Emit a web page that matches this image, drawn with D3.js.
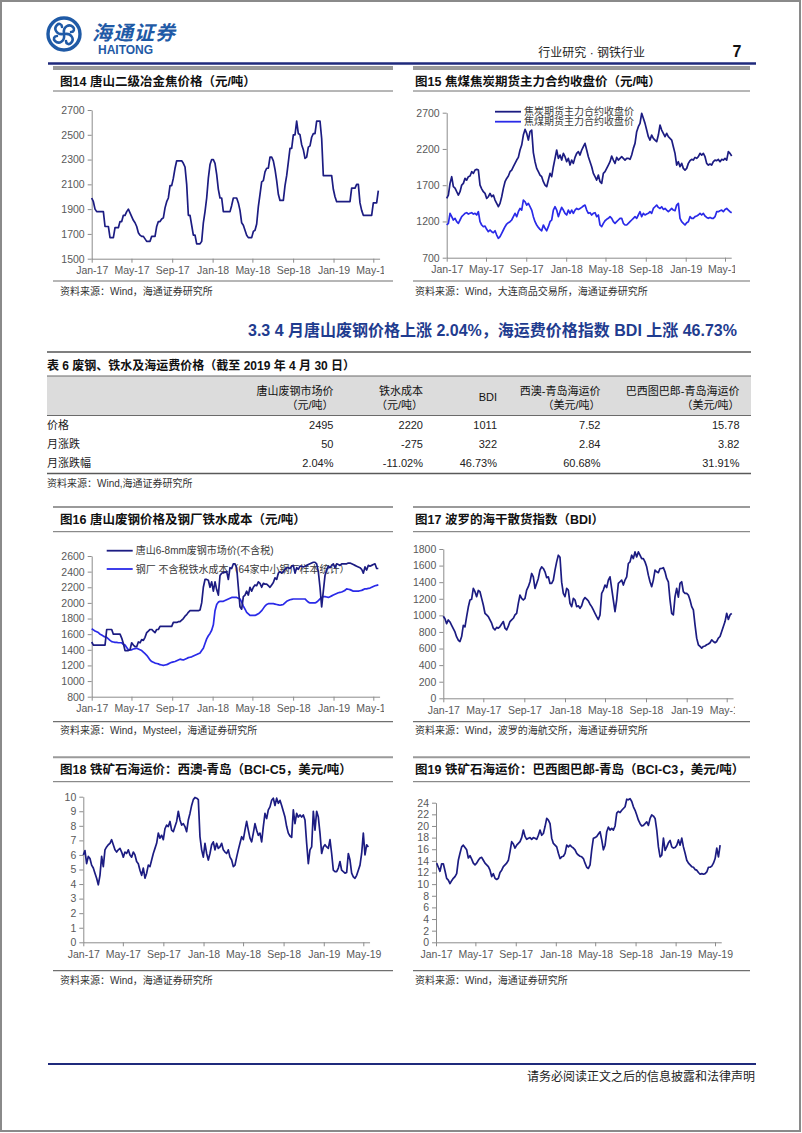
<!DOCTYPE html>
<html>
<head>
<meta charset="utf-8">
<script src="https://cdn.jsdelivr.net/npm/d3@7"></script>
<style>
  body { margin: 0; background: #fff; }
  text { font-family: "Liberation Sans", Arial, "Noto Sans CJK SC", sans-serif; }
</style>
</head>
<body>
<svg id="page" width="802" height="1133"></svg>
<script>
// ---- data (one sample about every 5 days from Jan 2017) ----

// fig14 唐山二级冶金焦价格
var coke14 = [1990,1960,1900,1880,1880,1880,1880,1880,1760,1760,
  1760,1670,1670,1670,1750,1750,1750,1800,1800,1850,
  1850,1880,1900,1870,1840,1810,1790,1760,1710,1690,
  1680,1680,1660,1640,1640,1640,1680,1680,1680,1760,
  1800,1800,1820,1830,1910,1960,1990,2090,2090,2150,
  2230,2290,2290,2290,2290,2270,2240,2100,1850,1850,
  1770,1690,1690,1620,1620,1620,1640,1790,1880,1990,
  2150,2260,2300,2300,2270,2180,2060,1990,1990,1880,
  1880,1880,1880,1880,1930,1990,1990,1990,1950,1890,
  1790,1770,1730,1690,1670,1670,1670,1720,1730,1780,
  1920,2020,2120,2130,2200,2230,2230,2320,2320,2290,
  2220,2130,2020,1970,1970,1970,2090,2170,2280,2390,
  2390,2500,2500,2610,2510,2500,2420,2380,2310,2320,
  2400,2410,2480,2510,2510,2610,2610,2610,2470,2170,
  2170,2170,2170,2170,2170,2060,2000,1960,1960,1960,
  1960,1960,1960,1960,1960,1960,2070,2070,2070,2100,
  2100,1950,1890,1850,1850,1850,1850,1850,1850,1950,
  1950,1950,2050];

// fig15 焦炭 / 焦煤 期货主力合约收盘价
var cokeFut = [1518,1564,1725,1817,1680,1660,1610,1564,1610,1702,
  1725,1794,1771,1817,1826,1886,1863,1909,1918,1909,
  1700,1650,1610,1587,1518,1541,1587,1541,1564,1495,
  1449,1403,1449,1541,1656,1748,1794,1826,1886,1909,
  1955,2001,2047,2084,2185,2254,2392,2470,2415,2323,
  2438,2460,2150,2024,1932,1886,1840,1817,1748,1702,
  1679,1771,1863,1817,1955,2070,2185,2070,2116,2047,
  2139,2093,2024,2070,1978,2047,2001,2084,2139,2162,
  2116,2185,2231,2277,2185,2093,2024,1955,1863,1817,
  1771,1840,1748,1725,1863,1886,1932,1978,2024,2102,
  2047,2001,2084,2047,2070,2093,2070,2047,2070,2070,
  2056,2116,2208,2277,2438,2507,2553,2691,2622,2553,
  2461,2369,2323,2392,2346,2323,2300,2392,2530,2461,
  2415,2369,2415,2369,2346,2323,2231,2139,1978,2024,
  1955,2001,1932,1909,1932,2001,2038,2056,2047,2084,
  2070,2093,2139,2116,2139,2093,2001,1978,1992,1978,
  2024,2047,2038,2056,2024,2056,2047,2070,2047,2162,
  2139,2102];
var coalFut = [1151,1174,1312,1266,1220,1243,1197,1174,1220,1266,
  1289,1312,1321,1302,1312,1321,1302,1312,1289,1335,
  1197,1151,1128,1137,1091,1059,1082,1059,1045,1072,
  1013,967,990,1036,1082,1128,1164,1183,1197,1220,
  1266,1312,1266,1335,1380,1357,1495,1472,1426,1449,
  1403,1357,1266,1197,1151,1118,1091,1072,1151,1105,
  1072,1128,1197,1220,1357,1403,1357,1266,1335,1394,
  1357,1312,1289,1357,1312,1357,1312,1357,1380,1366,
  1380,1394,1413,1426,1357,1312,1321,1289,1312,1321,
  1266,1289,1151,1128,1174,1210,1229,1243,1266,1243,
  1197,1174,1197,1220,1243,1243,1174,1151,1151,1174,
  1197,1220,1243,1266,1243,1289,1335,1266,1312,1289,
  1302,1312,1335,1312,1380,1403,1426,1394,1380,1403,
  1366,1380,1357,1335,1357,1380,1357,1348,1426,1449,
  1243,1197,1174,1151,1183,1197,1266,1243,1243,1266,
  1275,1289,1312,1289,1312,1275,1256,1243,1256,1243,
  1243,1266,1335,1335,1348,1357,1335,1366,1380,1357,
  1335,1321];

// fig16 唐山废钢价格 / 钢厂铁水成本
var scrap16 = [1500,1460,1460,1460,1460,1460,1460,1460,1460,1660,
  1660,1660,1660,1600,1600,1600,1600,1600,1550,1480,
  1390,1390,1390,1400,1490,1460,1440,1440,1500,1490,
  1530,1520,1560,1620,1640,1660,1660,1640,1620,1660,
  1660,1700,1700,1700,1700,1700,1700,1700,1700,1750,
  1750,1750,1760,1760,1780,1800,1830,1850,1880,1900,
  1900,1900,1900,1900,1900,1910,2000,2200,2300,2300,
  2290,2200,2270,2150,2270,2170,2100,2350,2380,2390,
  2390,2400,2300,2450,2440,2500,2500,2450,2200,1950,
  1920,2080,2100,2150,2100,2200,2150,2200,2230,2220,
  2270,2250,2200,2250,2240,2240,2220,2200,2230,2260,
  2320,2300,2380,2400,2380,2400,2430,2450,2450,2440,
  2470,2480,2380,2450,2430,2470,2470,2460,2470,2480,
  2490,2500,2510,2520,2520,2500,2400,2200,1950,2150,
  2350,2420,2470,2450,2480,2500,2450,2500,2490,2480,
  2500,2500,2500,2500,2510,2510,2500,2490,2480,2470,
  2460,2450,2430,2380,2460,2420,2480,2470,2480,2490,
  2500,2440,2440];
var ironCost16 = [1670,1655,1640,1630,1620,1600,1590,1575,1565,1560,
  1540,1520,1505,1500,1495,1495,1490,1490,1490,1470,
  1460,1430,1400,1400,1400,1410,1415,1420,1410,1400,
  1390,1370,1350,1330,1300,1270,1250,1240,1230,1225,
  1220,1210,1205,1200,1205,1210,1220,1230,1240,1245,
  1250,1260,1270,1280,1275,1270,1280,1290,1300,1305,
  1310,1320,1330,1340,1350,1360,1390,1420,1480,1540,
  1580,1610,1650,1720,1900,1980,2010,2020,2020,2020,
  2030,2040,2050,2060,2070,2070,2070,2070,2060,2050,
  2010,1960,1920,1880,1860,1840,1840,1840,1840,1850,
  1860,1880,1900,1930,1960,1980,1990,1990,1990,1990,
  1985,1980,1975,1970,1975,1980,2000,2020,2030,2040,
  2045,2050,2050,2050,2050,2050,2050,2050,2050,2030,
  2010,2000,2000,2000,2000,2010,2030,2050,2070,2080,
  2080,2075,2070,2080,2090,2100,2110,2120,2130,2135,
  2140,2150,2160,2180,2175,2170,2160,2150,2150,2150,
  2150,2155,2160,2170,2180,2180,2185,2190,2200,2210,
  2220,2225,2230];

// fig17 BDI
var bdi = [990,960,900,945,920,880,840,800,740,700,
  685,745,880,860,985,1100,1185,1195,1325,1285,
  1225,1300,1285,1205,1125,1025,1005,985,945,905,
  845,825,855,845,865,895,925,845,825,870,
  925,945,965,1005,1025,1145,1245,1205,1185,1205,
  1305,1345,1405,1505,1465,1325,1385,1445,1545,1585,
  1565,1525,1455,1465,1385,1385,1425,1545,1645,1725,
  1700,1400,1265,1225,1325,1305,1145,1105,1205,1185,
  1105,1115,1085,1115,1185,1215,1195,1175,1135,1105,
  1065,1025,985,950,1005,1265,1305,1365,1335,1425,
  1465,1325,1185,1045,1185,1385,1405,1425,1365,1425,
  1465,1625,1645,1725,1685,1765,1705,1765,1725,1685,
  1685,1645,1585,1485,1405,1345,1425,1545,1525,1515,
  1565,1565,1575,1525,1445,1405,1185,1025,1005,1225,
  1325,1220,1385,1405,1285,1265,1265,1245,1185,1105,
  1065,885,725,645,625,605,625,630,645,655,
  670,705,685,670,685,725,745,805,865,925,
  1025,950,1005,1025];

// fig18 BCI-C5 西澳-青岛
var bciC5 = [6.0,6.3,5.4,5.9,5.75,5.3,5.1,4.75,4.4,3.95,
  4.6,5.9,5.2,6.35,6.55,6.7,6.8,7.05,6.7,6.35,
  6.2,6.35,6.45,6.2,5.85,6.2,6.1,6.35,6.0,5.85,
  6.2,6.0,5.55,5.4,4.95,4.6,5.1,4.4,4.75,5.3,
  5.2,5.65,6.1,6.45,6.8,7.5,7.15,7.35,7.05,7.8,
  8.05,7.95,8.3,7.7,7.6,7.95,8.3,9.0,8.4,8.05,
  8.15,7.95,7.6,8.4,8.85,9.4,9.8,9.95,9.9,9.8,
  7.25,6.35,5.85,6.8,6.1,5.65,6.1,6.7,6.9,6.35,
  6.8,6.45,6.55,6.8,6.35,6.2,6.1,6.35,5.85,5.65,
  5.2,5.3,5.85,6.35,6.8,7.25,7.05,7.7,8.3,7.7,
  7.15,6.9,7.5,8.15,7.7,7.35,7.5,6.9,7.95,8.85,
  8.5,9.1,9.3,9.75,9.9,9.4,9.9,9.55,9.75,9.4,
  9.0,8.6,7.95,7.5,7.3,7.2,9.1,8.15,8.85,8.6,
  8.75,8.6,8.75,8.4,6.8,5.4,6.35,6.55,9.0,7.7,
  9.0,8.6,7.5,6.1,6.55,6.7,6.55,6.45,7.05,6.1,
  4.95,4.85,4.85,5.1,5.55,4.95,4.85,4.75,4.8,6.1,
  5.65,4.75,4.5,4.4,4.6,4.95,5.3,6.1,7.5,6.0,
  6.7,6.55];

// fig19 BCI-C3 巴西图巴郎-青岛
var bciC3 = [13.6,12.9,12.2,13.5,13.5,12.3,11.0,10.7,10.1,10.6,
  11.0,11.3,11.8,14.1,15.3,16.4,16.7,16.3,15.9,14.5,
  14.9,14.3,13.6,13.3,13.6,14.1,14.5,14.6,14.1,13.6,
  13.3,13.0,12.4,11.3,11.8,11.0,10.8,11.0,12.0,12.4,
  13.0,13.3,13.6,14.1,15.6,17.3,16.9,16.2,16.7,17.0,
  17.3,18.0,19.3,18.2,17.7,17.9,18.0,17.7,18.0,17.9,
  17.7,18.4,19.3,18.4,18.7,19.9,21.3,21.0,20.4,17.9,
  17.0,16.7,16.4,15.3,14.4,14.7,14.8,15.3,16.7,16.4,
  16.7,16.4,16.2,15.9,15.3,15.0,14.8,14.7,14.4,13.6,
  12.9,12.7,13.3,15.9,17.9,18.0,18.2,18.6,19.0,17.6,
  15.9,16.7,19.0,19.8,19.3,19.6,19.3,20.0,22.2,22.5,
  22.3,22.7,23.0,23.3,24.6,24.5,24.7,24.2,23.3,22.7,
  21.9,21.0,20.4,20.0,20.1,20.4,20.7,20.1,21.3,21.9,
  21.7,21.3,19.3,16.4,14.7,15.0,17.9,15.8,16.4,17.1,
  17.5,16.4,16.2,16.3,16.7,17.6,16.7,17.9,16.4,15.3,
  14.1,13.6,13.3,13.0,12.9,12.5,12.4,12.0,11.7,11.8,
  11.7,11.8,12.1,12.9,12.9,13.1,13.6,14.4,16.2,14.7,
  16.7];

// table 6
var tableCols = [["唐山废钢市场价", "（元/吨）"], ["铁水成本", "（元/吨）"], ["BDI"],
  ["西澳-青岛海运价", "（美元/吨）"], ["巴西图巴郎-青岛海运价", "（美元/吨）"]];
var tableRowLabels = ["价格", "月涨跌", "月涨跌幅"];
var tablePrice = ["2495", "2220", "1011", "7.52", "15.78"];
var tableChange = ["50", "-275", "322", "2.84", "3.82"];
var tableChangePct = ["2.04%", "-11.02%", "46.73%", "60.68%", "31.91%"];

// ---- drawing ----
var svg = d3.select("#page");
var navy = "#1c1c82", brightBlue = "#2a2ae8", axisGray = "#8c8c8c", labelGray = "#595959";
var parseDay = d3.timeParse("%Y-%m-%d");
var jan17 = parseDay("2017-01-01"), may19 = parseDay("2019-05-01"), axisEnd = parseDay("2019-05-20");
var fmt = d3.timeFormat("%b-%y");

// page border
svg.append("rect").attr("x", 1).attr("y", 1).attr("width", 799).attr("height", 1130)
  .attr("fill", "none").attr("stroke", "#8a8a8a").attr("stroke-width", 2);

// header: logo
var logo = svg.append("g").attr("transform", "translate(64,34)");
logo.append("circle").attr("r", 16).attr("fill", "none").attr("stroke", "#1f5aa6").attr("stroke-width", 3.4);
[0, 90, 180, 270].forEach(function(a) {
  logo.append("path").attr("transform", "rotate(" + a + ")")
    .attr("d", "M0,-1 C-1,-7 5,-11 9,-7 C11,-5 10,-2 7,-2")
    .attr("fill", "none").attr("stroke", "#1f5aa6").attr("stroke-width", 2.6).attr("stroke-linecap", "round");
});
svg.append("text").attr("x", 92).attr("y", 40).attr("font-size", 20).attr("font-style", "italic")
  .attr("fill", "#1f5aa6").attr("font-weight", 700).attr("letter-spacing", 1).text("海通证券");
svg.append("text").attr("x", 98).attr("y", 54).attr("font-size", 12).attr("font-weight", 700)
  .attr("fill", "#1f5aa6").text("HAITONG");
svg.append("text").attr("x", 645).attr("y", 57).attr("text-anchor", "end").attr("font-size", 12)
  .attr("fill", "#222").text("行业研究 · 钢铁行业");
svg.append("text").attr("x", 737).attr("y", 57).attr("text-anchor", "middle").attr("font-size", 16)
  .attr("font-weight", 700).attr("fill", "#111").text("7");
svg.append("line").attr("x1", 48).attr("x2", 756).attr("y1", 63.5).attr("y2", 63.5)
  .attr("stroke", "#1f2a7c").attr("stroke-width", 2.5);

// footer
svg.append("line").attr("x1", 48).attr("x2", 756).attr("y1", 1064).attr("y2", 1064)
  .attr("stroke", "#1f2a7c").attr("stroke-width", 2);
svg.append("text").attr("x", 755).attr("y", 1081).attr("text-anchor", "end").attr("font-size", 12)
  .attr("fill", "#222").text("请务必阅读正文之后的信息披露和法律声明");

function toPoints(values, start, stepDays) {
  return values.map(function(v, i) {
    return {date: new Date(start.getTime() + i * stepDays * 864e5), value: v};
  });
}

var clipId = 0;
function chart(c) {
  var g = svg.append("g");
  // frame
  g.append("line").attr("x1", c.x0).attr("x2", c.x1).attr("y1", c.top).attr("y2", c.top)
    .attr("stroke", "#9a9a9a").attr("stroke-width", c.topWidth || 2);
  g.append("text").attr("x", c.titleX).attr("y", c.titleY).attr("font-size", 12.5)
    .attr("font-weight", 700).attr("fill", "#111").text(c.title);
  g.append("line").attr("x1", c.x0).attr("x2", c.x1).attr("y1", c.subY).attr("y2", c.subY)
    .attr("stroke", "#6f6f6f").attr("stroke-width", 1);
  g.append("line").attr("x1", c.x0).attr("x2", c.x1).attr("y1", c.botY).attr("y2", c.botY)
    .attr("stroke", "#6f6f6f").attr("stroke-width", 1.2);
  g.append("text").attr("x", c.titleX).attr("y", c.srcY).attr("font-size", 10)
    .attr("fill", "#333").text(c.source);

  // scales
  var endX = c.xJan + (c.xMay - c.xJan) * (axisEnd - jan17) / (may19 - jan17);
  var x = d3.scaleTime().domain([jan17, axisEnd]).range([c.xJan, endX]);
  var y = d3.scaleLinear().domain(c.yDomain).range([c.yBot, c.yTop]);

  // clip for the last tick label (in the axis group's own coordinates)
  var cid = "clip" + (clipId++);
  svg.append("clipPath").attr("id", cid).append("rect")
    .attr("x", c.x0).attr("y", -5).attr("width", c.clipR - c.x0).attr("height", 30);

  var xAxis = g.append("g").attr("transform", "translate(0," + c.yBot + ")")
    .attr("clip-path", "url(#" + cid + ")")
    .call(d3.axisBottom(x).ticks(d3.timeMonth.every(4)).tickFormat(fmt).tickSize(4).tickPadding(4).tickSizeOuter(0));
  var yAxis = g.append("g").attr("transform", "translate(" + c.xJan + ",0)")
    .call(d3.axisLeft(y).tickValues(d3.range(c.yDomain[0], c.yDomain[1] + c.yStep / 2, c.yStep))
      .tickFormat(d3.format("d")).tickSize(4).tickPadding(3).tickSizeOuter(0));
  [xAxis, yAxis].forEach(function(a) {
    a.select(".domain").attr("stroke", axisGray);
    a.selectAll(".tick line").attr("stroke", axisGray);
    a.selectAll(".tick text").attr("fill", labelGray).attr("font-size", 10.5)
      .attr("font-family", "'Liberation Sans', Arial, sans-serif");
  });

  // legend (drawn under the lines)
  (c.legend || []).forEach(function(l, i) {
    var ly = c.legendY[i];
    g.append("line").attr("x1", c.legendX).attr("x2", c.legendX + 26).attr("y1", ly).attr("y2", ly)
      .attr("stroke", l.color).attr("stroke-width", 1.8);
    g.append("text").attr("x", c.legendX + 29).attr("y", ly + 3.5).attr("font-size", 10)
      .attr("fill", "#3a3a3a").text(l.label);
  });

  var line = d3.line().x(function(d) { return x(d.date); }).y(function(d) { return y(d.value); });
  c.series.forEach(function(s) {
    g.append("path").datum(toPoints(s.values, s.start, s.step))
      .attr("fill", "none").attr("stroke", s.color).attr("stroke-width", 1.7)
      .attr("stroke-linejoin", "round").attr("d", line);
  });
}

var leftCol = {x0: 53, x1: 393, titleX: 60, clipR: 384};
var rightCol = {x0: 413, x1: 750, titleX: 415, clipR: 735};

chart(Object.assign({}, leftCol, {
  top: 68, topWidth: 4, titleY: 86, subY: 91, botY: 281, srcY: 294.5,
  title: "图14 唐山二级冶金焦价格（元/吨）", source: "资料来源：Wind，海通证券研究所",
  xJan: 91.7, xMay: 373.3, yTop: 110, yBot: 258.7, yDomain: [1500, 2700], yStep: 200,
  series: [{values: coke14, start: jan17, step: 5.03, color: navy}]
}));

chart(Object.assign({}, rightCol, {
  top: 68, topWidth: 4, titleY: 86, subY: 91, botY: 281, srcY: 294.5,
  title: "图15 焦煤焦炭期货主力合约收盘价（元/吨）", source: "资料来源：Wind，大连商品交易所，海通证券研究所",
  xJan: 446.7, xMay: 725, yTop: 112.7, yBot: 257.7, yDomain: [700, 2700], yStep: 500,
  legendX: 495, legendY: [111.7, 121.7],
  legend: [{label: "焦炭期货主力合约收盘价", color: navy}, {label: "焦煤期货主力合约收盘价", color: brightBlue}],
  series: [{values: cokeFut, start: jan17, step: 5.09, color: navy},
           {values: coalFut, start: jan17, step: 5.09, color: brightBlue}]
}));

chart(Object.assign({}, leftCol, {
  top: 507, titleY: 524, subY: 531.7, botY: 721.7, srcY: 734,
  title: "图16 唐山废钢价格及钢厂铁水成本（元/吨）", source: "资料来源：Wind，Mysteel，海通证券研究所",
  xJan: 91.7, xMay: 373.3, yTop: 556, yBot: 696.7, yDomain: [800, 2600], yStep: 200,
  legendX: 106.7, legendY: [550.7, 569],
  legend: [{label: "唐山6-8mm废钢市场价(不含税)", color: navy},
           {label: "钢厂 不含税铁水成本（64家中小钢厂样本统计）", color: brightBlue}],
  series: [{values: ironCost16, start: jan17, step: 5.03, color: brightBlue},
           {values: scrap16, start: jan17, step: 5.03, color: navy}]
}));

chart(Object.assign({}, rightCol, {
  top: 507, titleY: 524, subY: 531.7, botY: 721.7, srcY: 734,
  title: "图17 波罗的海干散货指数（BDI）", source: "资料来源：Wind，波罗的海航交所，海通证券研究所",
  xJan: 443.3, xMay: 726.7, yTop: 549, yBot: 698.3, yDomain: [0, 1800], yStep: 200,
  series: [{values: bdi, start: jan17, step: 5.0, color: navy}]
}));

chart(Object.assign({}, leftCol, {
  top: 757.3, titleY: 773.5, subY: 781.7, botY: 970.7, srcY: 983.5, clipR: 400,
  title: "图18 铁矿石海运价：西澳-青岛（BCI-C5，美元/吨）", source: "资料来源：Wind，海通证券研究所",
  xJan: 83.3, xMay: 363.3, yTop: 796.7, yBot: 942.3, yDomain: [0, 10], yStep: 1,
  series: [{values: bciC5, start: jan17, step: 5.06, color: navy}]
}));

chart(Object.assign({}, rightCol, {
  top: 757.3, titleY: 773.5, subY: 781.7, botY: 970.7, srcY: 983.5, clipR: 760,
  title: "图19 铁矿石海运价：巴西图巴郎-青岛（BCI-C3，美元/吨）", source: "资料来源：Wind，海通证券研究所",
  xJan: 436, xMay: 715, yTop: 802.7, yBot: 942.3, yDomain: [0, 24], yStep: 2,
  series: [{values: bciC3, start: parseDay("2017-01-03"), step: 5.08, color: navy}]
}));

// ---- section heading and table 6 ----
svg.append("text").attr("x", 737).attr("y", 336).attr("text-anchor", "end")
  .attr("font-size", 16).attr("font-weight", 700).attr("fill", "#1f3c8f")
  .text("3.3 4 月唐山废钢价格上涨 2.04%，海运费价格指数 BDI 上涨 46.73%");

var tLeft = 47, tRight = 751;
svg.append("line").attr("x1", tLeft).attr("x2", tRight).attr("y1", 352).attr("y2", 352)
  .attr("stroke", "#7f7f7f").attr("stroke-width", 2.2);
svg.append("text").attr("x", tLeft).attr("y", 370).attr("font-size", 12).attr("font-weight", 700)
  .attr("fill", "#111").text("表 6 废钢、铁水及海运费价格（截至 2019 年 4 月 30 日）");
svg.append("rect").attr("x", tLeft).attr("y", 376).attr("width", tRight - tLeft).attr("height", 39.5)
  .attr("fill", "#dcdcdc");
svg.append("line").attr("x1", tLeft).attr("x2", tRight).attr("y1", 376).attr("y2", 376)
  .attr("stroke", "#6a6a6a").attr("stroke-width", 1.2);
svg.append("line").attr("x1", tLeft).attr("x2", tRight).attr("y1", 415.5).attr("y2", 415.5)
  .attr("stroke", "#6a6a6a").attr("stroke-width", 1.2);

var colRight = [333.5, 423, 497, 600.5, 739.5];
tableCols.forEach(function(lines, i) {
  lines.forEach(function(t, j) {
    var yy = lines.length === 1 ? 401 : (j === 0 ? 395 : 409);
    svg.append("text").attr("x", colRight[i]).attr("y", yy).attr("text-anchor", "end")
      .attr("font-size", 11).attr("fill", "#111").text(t);
  });
});
var rowData = [tablePrice, tableChange, tableChangePct];
var rowY = [429, 447.5, 466.5];
tableRowLabels.forEach(function(lab, r) {
  svg.append("text").attr("x", tLeft).attr("y", rowY[r]).attr("font-size", 11).attr("fill", "#222").text(lab);
  rowData[r].forEach(function(v, i) {
    svg.append("text").attr("x", colRight[i]).attr("y", rowY[r]).attr("text-anchor", "end")
      .attr("font-size", 11).attr("fill", "#222").text(v);
  });
});
svg.append("line").attr("x1", tLeft).attr("x2", tRight).attr("y1", 473.5).attr("y2", 473.5)
  .attr("stroke", "#595959").attr("stroke-width", 1.5);
svg.append("text").attr("x", tLeft).attr("y", 487).attr("font-size", 10).attr("fill", "#333")
  .text("资料来源：Wind,海通证券研究所");
</script>
</body>
</html>
